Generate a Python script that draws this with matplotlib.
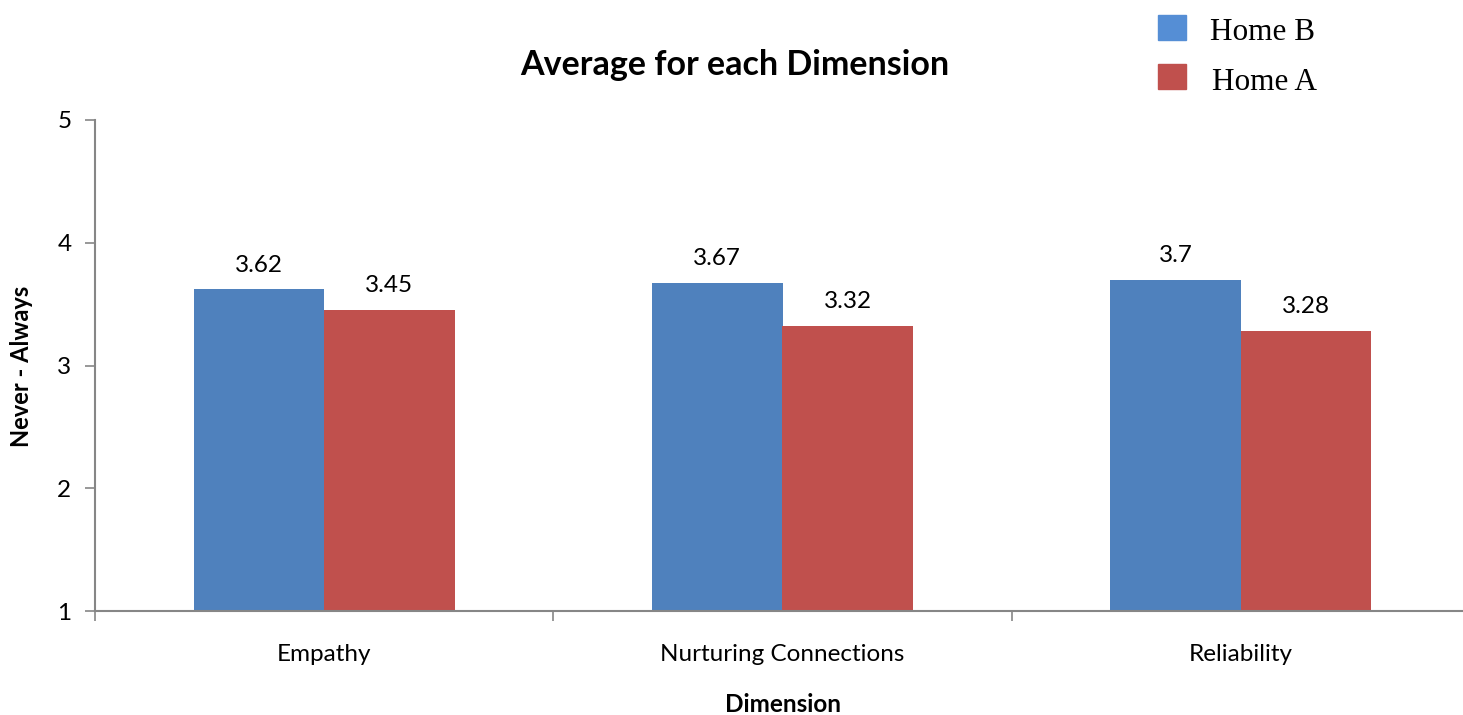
import numpy as np
import matplotlib

matplotlib.use("Agg")
import matplotlib.pyplot as plt
from matplotlib.patches import Rectangle

categories = ["Empathy", "Nurturing Connections", "Reliability"]
home_b = [3.62, 3.67, 3.7]
home_a = [3.45, 3.32, 3.28]
value_labels_b = ["3.62", "3.67", "3.7"]
value_labels_a = ["3.45", "3.32", "3.28"]
yticks = [1, 2, 3, 4, 5]

BLUE = "#4F81BD"
RED = "#C0504D"
AXIS_GREY = "#868686"

plt.rcParams["font.family"] = ["Lato", "DejaVu Sans"]

W, H = 1463, 715
fig = plt.figure(figsize=(W / 100, H / 100), dpi=100)
ax = fig.add_axes([95 / W, 1 - 611 / H, (1470 - 95) / W, (611 - 120) / H])

x = np.arange(len(categories))
bw = 0.285
bars_b = ax.bar(x - bw / 2, np.array(home_b) - 1, bw, bottom=1, color=BLUE)
bars_a = ax.bar(x + bw / 2, np.array(home_a) - 1, bw, bottom=1, color=RED)

for rects, vals, labels in ((bars_b, home_b, value_labels_b), (bars_a, home_a, value_labels_a)):
    for r, v, s in zip(rects, vals, labels):
        ax.annotate(s, (r.get_x() + r.get_width() / 2, v), xytext=(0, 10),
                    textcoords="offset points", ha="center", va="bottom", fontsize=17.5)

ax.set_xlim(-0.5, len(categories) - 0.5)
ax.set_ylim(1, 5)
ax.set_yticks(yticks)
ax.tick_params(axis="y", labelsize=17.5, length=7, width=1.2, color=AXIS_GREY, pad=10)

# category labels sit between the boundary ticks
ax.set_xticks(np.arange(len(categories) + 1) - 0.5)
ax.set_xticklabels([])
ax.set_xticks(x, minor=True)
ax.set_xticklabels(categories, minor=True, fontsize=17.5)
ax.tick_params(axis="x", which="major", length=7, width=1.2, color=AXIS_GREY)
ax.tick_params(axis="x", which="minor", length=0, pad=24)

for side in ("top", "right"):
    ax.spines[side].set_visible(False)
for side in ("left", "bottom"):
    ax.spines[side].set_color(AXIS_GREY)
    ax.spines[side].set_linewidth(1.5)

fig.text(735 / W, 1 - 65 / H, "Average for each Dimension", ha="center", va="center",
         fontsize=24.5, fontweight="bold")
fig.text(22 / W, 1 - 366 / H, "Never - Always", rotation=90, ha="center", va="center",
         fontsize=17, fontweight="bold")
fig.text(783 / W, 1 - 705 / H, "Dimension", ha="center", va="center",
         fontsize=17.5, fontweight="bold")

# legend drawn as plain patches in figure coordinates
legend_items = [("Home B", "#558ED5", 28, 1210), ("Home A", RED, 77, 1212)]
for label, color, yc, tx in legend_items:
    fig.patches.append(Rectangle((1158 / W, 1 - (yc + 12) / H), 28 / W, 25 / H,
                                 transform=fig.transFigure, color=color))
    fig.text(tx / W, 1 - (yc + 5) / H, label, ha="left", va="center", fontsize=22.5,
             family=["Liberation Serif", "DejaVu Serif"])

fig.savefig("out.png", dpi=100)
